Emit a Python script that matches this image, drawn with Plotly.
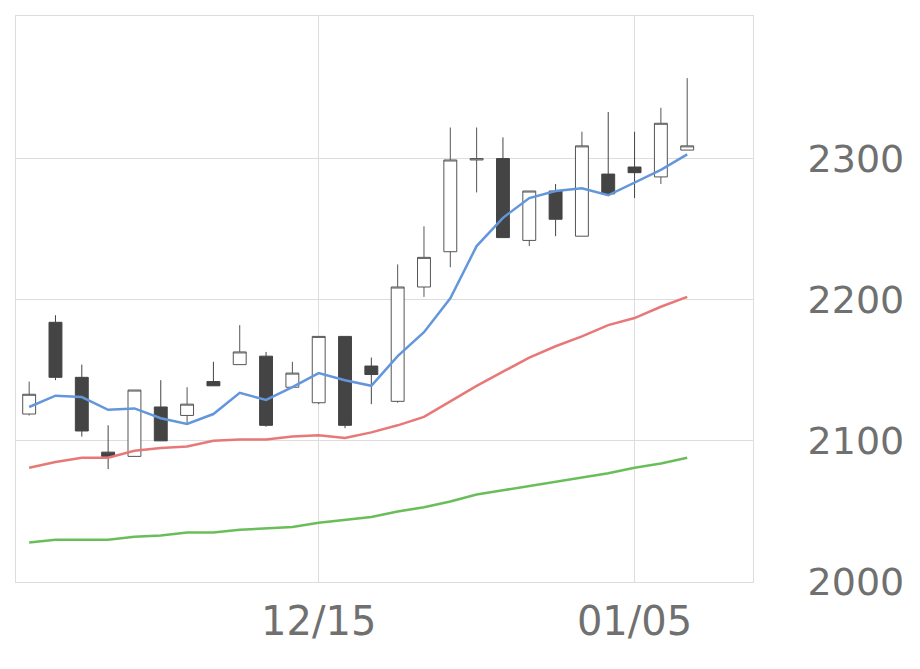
import plotly.graph_objects as go

dates = ["11/28","12/01","12/02","12/03","12/04","12/05","12/08","12/09","12/10","12/11","12/12",
         "12/15","12/16","12/17","12/18","12/19","12/22","12/23","12/24","12/25","12/26","12/29","12/30",
         "01/05","01/06","01/07"]
opens  = [2119,2184,2145,2092,2089,2124,2118,2142,2154,2160,2138,2127,2174,2153,2128,2209,2234,2299,2300,2242,2277,2245,2289,2294,2287,2306]
closes = [2133,2145,2107,2089,2136,2100,2126,2139,2163,2111,2148,2174,2111,2147,2209,2230,2299,2300,2244,2277,2257,2309,2275,2290,2325,2309]
highs  = [2142,2189,2154,2111,2136,2143,2138,2156,2182,2163,2156,2174,2174,2159,2225,2252,2322,2322,2315,2277,2282,2319,2333,2319,2336,2357]
lows   = [2118,2143,2103,2080,2089,2100,2112,2139,2154,2110,2138,2126,2109,2126,2127,2202,2223,2276,2244,2238,2245,2245,2275,2272,2282,2306]
ma_short = [2124,2132,2131,2122,2123,2116,2112,2119,2134,2129,2138,2148,2143,2139,2160,2177,2201,2238,2258,2272,2277,2279,2274,2283,2292,2303]
ma_mid   = [2081,2085,2088,2088,2093,2095,2096,2100,2101,2101,2103,2104,2102,2106,2111,2117,2128,2139,2149,2159,2167,2174,2182,2187,2195,2202]
ma_long  = [2028,2030,2030,2030,2032,2033,2035,2035,2037,2038,2039,2042,2044,2046,2050,2053,2057,2062,2065,2068,2071,2074,2077,2081,2084,2088]
tick_labels = ["12/15","01/05"]
y_ticks = [2000,2100,2200,2300]

fig = go.Figure()
fig.add_trace(go.Candlestick(x=dates, open=opens, high=highs, low=lows, close=closes,
    increasing=dict(fillcolor="white", line=dict(color="#555555", width=1)),
    decreasing=dict(fillcolor="#444444", line=dict(color="#444444", width=1)),
    whiskerwidth=0, showlegend=False))
for vals, col in [(ma_long, "#6abe5a"), (ma_mid, "#e87878"), (ma_short, "#6496dc")]:
    fig.add_trace(go.Scatter(x=dates, y=vals, mode="lines", line=dict(color=col, width=2.5), showlegend=False))

fig.update_layout(width=920, height=669, margin=dict(l=8, r=175, t=8, b=95),
    plot_bgcolor="white", paper_bgcolor="white",
    font=dict(family="DejaVu Sans", color="#707070", size=38))
fig.update_xaxes(type="category", range=[-0.5, 27.5], rangeslider_visible=False,
    tickvals=tick_labels, ticktext=tick_labels, showgrid=True, gridcolor="#dddddd",
    showline=True, linecolor="#dddddd", mirror=True, ticks="outside", ticklen=4, tickcolor="white",
    tickfont=dict(size=40), zeroline=False)
fig.update_yaxes(side="right", range=[2000, 2401], tickvals=y_ticks, showgrid=True, gridcolor="#dddddd",
    showline=True, linecolor="#dddddd", mirror=True, ticks="outside", ticklen=46, tickcolor="white", zeroline=False)
fig.write_html("out.html")
